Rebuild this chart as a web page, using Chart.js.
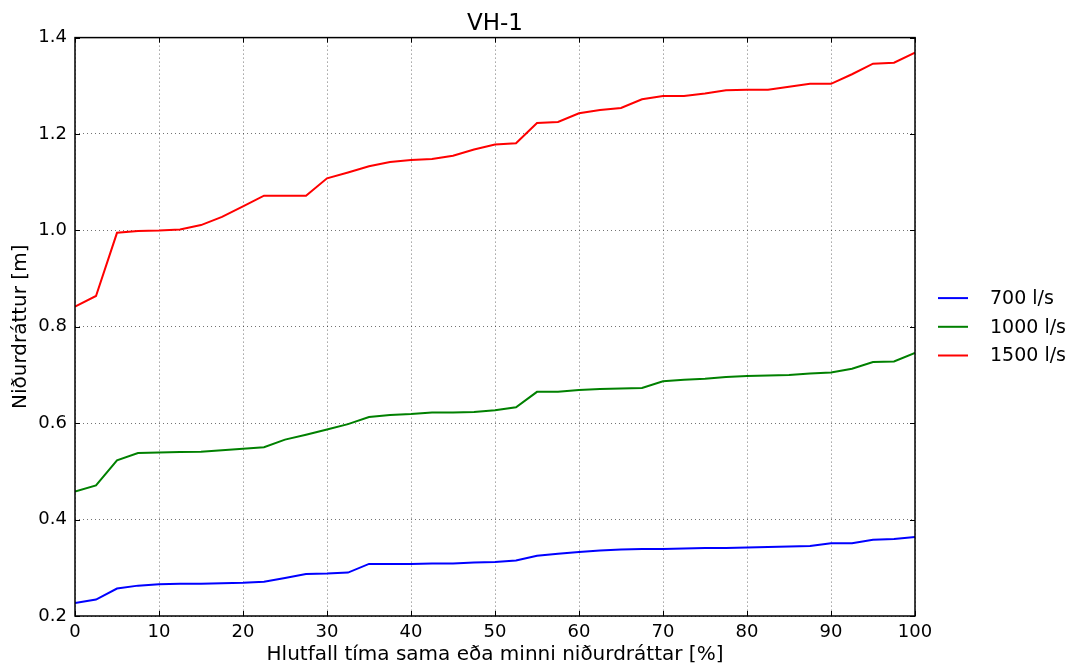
<!DOCTYPE html>
<html>
<head>
<meta charset="utf-8">
<script src="https://cdn.jsdelivr.net/npm/chart.js@4/dist/chart.umd.min.js"></script>
<style>
  html, body { margin: 0; padding: 0; background: #fff; }
  #wrap { width: 1077px; height: 667px; }
</style>
</head>
<body>
<div id="wrap"><canvas id="c" width="1077" height="667"></canvas></div>
<script>
const titleText = "VH-1";
const xLabel = "Hlutfall tíma sama eða minni niðurdráttar [%]";
const yLabel = "Niðurdráttur [m]";
const seriesLabels = ["700 l/s", "1000 l/s", "1500 l/s"];
const seriesColors = ["#0000ff", "#008000", "#ff0000"];

const xPercent = [0, 2.5, 5, 7.5, 10, 12.5, 15, 17.5, 20, 22.5, 25, 27.5, 30, 32.5, 35, 37.5, 40, 42.5, 45, 47.5, 50,
  52.5, 55, 57.5, 60, 62.5, 65, 67.5, 70, 72.5, 75, 77.5, 80, 82.5, 85, 87.5, 90, 92.5, 95, 97.5, 100];

const flow700 = [0.227, 0.234, 0.257, 0.263, 0.266, 0.267, 0.267, 0.268, 0.269, 0.271, 0.279, 0.287, 0.288, 0.290,
  0.308, 0.308, 0.308, 0.309, 0.309, 0.311, 0.312, 0.315, 0.325, 0.329, 0.333, 0.336, 0.338, 0.339,
  0.339, 0.340, 0.341, 0.341, 0.342, 0.343, 0.344, 0.345, 0.351, 0.351, 0.358, 0.360, 0.364];

const flow1000 = [0.458, 0.471, 0.523, 0.538, 0.539, 0.540, 0.541, 0.544, 0.547, 0.550, 0.566, 0.576, 0.587, 0.598,
  0.613, 0.617, 0.619, 0.622, 0.622, 0.623, 0.627, 0.633, 0.665, 0.665, 0.669, 0.671, 0.672, 0.673,
  0.687, 0.690, 0.692, 0.696, 0.698, 0.699, 0.700, 0.703, 0.705, 0.713, 0.727, 0.728, 0.746];

const flow1500 = [0.842, 0.864, 0.995, 0.999, 1.000, 1.002, 1.011, 1.028, 1.050, 1.072, 1.072, 1.072, 1.108, 1.120,
  1.133, 1.142, 1.146, 1.148, 1.155, 1.168, 1.178, 1.181, 1.223, 1.225, 1.243, 1.250, 1.254, 1.272,
  1.279, 1.279, 1.284, 1.291, 1.292, 1.292, 1.298, 1.304, 1.304, 1.324, 1.346, 1.348, 1.369];

const xTicks = [0, 10, 20, 30, 40, 50, 60, 70, 80, 90, 100];
const yTicks = [0.2, 0.4, 0.6, 0.8, 1.0, 1.2, 1.4];

const FONT = "'DejaVu Sans', 'Bitstream Vera Sans', sans-serif";

function toPoints(ys) { return xPercent.map((x, i) => ({ x: x, y: ys[i] })); }

const allSeries = [flow700, flow1000, flow1500];
const datasets = allSeries.map((s, i) => ({
  label: seriesLabels[i],
  data: toPoints(s),
  borderColor: seriesColors[i],
  backgroundColor: seriesColors[i],
  borderWidth: 2,
  pointRadius: 0,
  tension: 0,
  fill: false
}));

const framePlugin = {
  id: 'frame',
  afterDatasetsDraw(chart) {
    const { ctx, chartArea: a, scales } = chart;
    ctx.save();
    ctx.strokeStyle = '#000';
    ctx.lineWidth = 1;
    const tl = 5;
    ctx.beginPath();
    xTicks.forEach(v => {
      const px = Math.round(scales.x.getPixelForValue(v)) + 0.5;
      ctx.moveTo(px, a.bottom); ctx.lineTo(px, a.bottom - tl);
      ctx.moveTo(px, a.top); ctx.lineTo(px, a.top + tl);
    });
    yTicks.forEach(v => {
      const py = Math.round(scales.y.getPixelForValue(v)) + 0.5;
      ctx.moveTo(a.left, py); ctx.lineTo(a.left + tl, py);
      ctx.moveTo(a.right, py); ctx.lineTo(a.right - tl, py);
    });
    ctx.stroke();
    ctx.lineWidth = 1.5;
    ctx.strokeRect(a.left, a.top, a.right - a.left, a.bottom - a.top);
    ctx.restore();
  }
};

const legendPlugin = {
  id: 'customLegend',
  afterDraw(chart) {
    const { ctx, chartArea: a } = chart;
    const cy = (a.top + a.bottom) / 2;
    const gap = 28.7;
    ctx.save();
    ctx.font = "19px " + FONT;
    ctx.textBaseline = 'middle';
    ctx.textAlign = 'left';
    chart.data.datasets.forEach((ds, i) => {
      const y = cy + (i - 1) * gap;
      ctx.strokeStyle = ds.borderColor;
      ctx.lineWidth = 2;
      ctx.beginPath();
      ctx.moveTo(a.right + 23, y);
      ctx.lineTo(a.right + 53, y);
      ctx.stroke();
      ctx.fillStyle = '#000';
      ctx.fillText(ds.label, a.right + 75, y + 1);
    });
    ctx.restore();
  }
};

new Chart(document.getElementById('c'), {
  type: 'line',
  data: { datasets: datasets },
  plugins: [framePlugin, legendPlugin],
  options: {
    responsive: false,
    animation: false,
    layout: { padding: { left: 0, right: 162, top: 0, bottom: 0 } },
    plugins: {
      legend: { display: false },
      tooltip: { enabled: false },
      title: {
        display: true,
        fullSize: false,
        text: titleText,
        color: '#000',
        font: { family: FONT, size: 23, weight: 'normal' },
        padding: { top: 10, bottom: 0 }
      }
    },
    scales: {
      x: {
        type: 'linear',
        min: 0, max: 100,
        afterFit(scale) { scale.height = 51; },
        afterBuildTicks(scale) { scale.ticks = xTicks.map(v => ({ value: v })); },
        ticks: {
          color: '#000',
          padding: 6,
          font: { family: FONT, size: 18 },
          maxRotation: 0,
          callback: v => String(v)
        },
        grid: { color: 'rgba(0,0,0,0.55)', lineWidth: 1, drawTicks: false },
        border: { display: false, dash: [1, 3] },
        title: {
          display: true,
          text: xLabel,
          color: '#000',
          font: { family: FONT, size: 20 },
          padding: { top: 0, bottom: 0 }
        }
      },
      y: {
        type: 'linear',
        min: 0.2, max: 1.4,
        afterFit(scale) { scale.width = 75; },
        afterBuildTicks(scale) { scale.ticks = yTicks.map(v => ({ value: v })); },
        ticks: {
          color: '#000',
          padding: 8,
          font: { family: FONT, size: 18 },
          callback: v => Number(v).toFixed(1)
        },
        grid: { color: 'rgba(0,0,0,0.55)', lineWidth: 1, drawTicks: false },
        border: { display: false, dash: [1, 3] },
        title: {
          display: true,
          text: yLabel,
          color: '#000',
          font: { family: FONT, size: 20 },
          padding: { top: 9, bottom: 0 }
        }
      }
    }
  }
});
</script>
</body>
</html>
